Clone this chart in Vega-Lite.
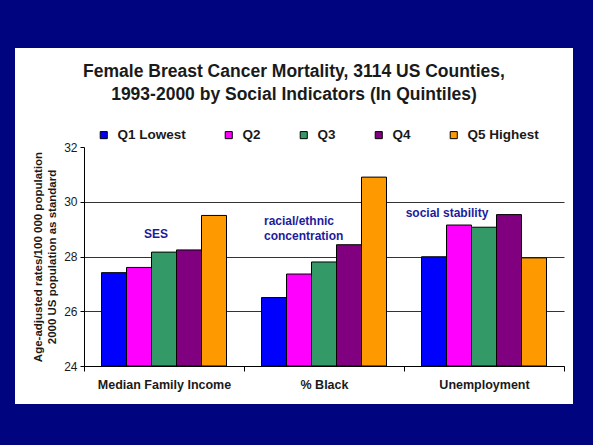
{
  "$schema": "https://vega.github.io/schema/vega-lite/v6.json",
  "width": 558,
  "height": 356,
  "autosize": {"type": "none"},
  "padding": {"left": 15, "top": 48, "right": 20, "bottom": 41},
  "background": "#00047f",
  "config": {
    "view": {"fill": "white", "stroke": null},
    "font": "Liberation Sans",
    "axis": {"labelFont": "Liberation Sans", "titleFont": "Liberation Sans"}
  },
  "title": {
    "text": ["Female Breast Cancer Mortality, 3114 US Counties,", "1993-2000 by Social Indicators (In Quintiles)"],
    "anchor": "middle",
    "frame": "group",
    "fontSize": 17.5,
    "fontWeight": "bold",
    "color": "#1a1a1a",
    "lineHeight": 23,
    "offset": -55
  },
  "datasets": {
    "rates": [
      {"indicator": "Median Family Income", "quintile": "Q1 Lowest", "rate": 27.41},
      {"indicator": "Median Family Income", "quintile": "Q2", "rate": 27.6},
      {"indicator": "Median Family Income", "quintile": "Q3", "rate": 28.16},
      {"indicator": "Median Family Income", "quintile": "Q4", "rate": 28.24},
      {"indicator": "Median Family Income", "quintile": "Q5 Highest", "rate": 29.5},
      {"indicator": "% Black", "quintile": "Q1 Lowest", "rate": 26.5},
      {"indicator": "% Black", "quintile": "Q2", "rate": 27.36},
      {"indicator": "% Black", "quintile": "Q3", "rate": 27.8},
      {"indicator": "% Black", "quintile": "Q4", "rate": 28.43},
      {"indicator": "% Black", "quintile": "Q5 Highest", "rate": 30.9},
      {"indicator": "Unemployment", "quintile": "Q1 Lowest", "rate": 27.99},
      {"indicator": "Unemployment", "quintile": "Q2", "rate": 29.15},
      {"indicator": "Unemployment", "quintile": "Q3", "rate": 29.07},
      {"indicator": "Unemployment", "quintile": "Q4", "rate": 29.53},
      {"indicator": "Unemployment", "quintile": "Q5 Highest", "rate": 27.95}
    ]
  },
  "layer": [
    {
      "data": {"name": "rates"},
      "mark": {"type": "bar", "stroke": "black", "strokeWidth": 1},
      "encoding": {
        "x": {
          "field": "indicator",
          "type": "nominal",
          "sort": ["Median Family Income", "% Black", "Unemployment"],
          "scale": {"range": [69, 549], "paddingInner": 0, "paddingOuter": 0},
          "axis": {
            "orient": "bottom",
            "offset": -38,
            "title": null,
            "labelAngle": 0,
            "labelFontSize": 12.5,
            "labelFontWeight": "bold",
            "labelColor": "#1a1a1a",
            "labelPadding": 7,
            "tickBand": "extent",
            "tickSize": 5,
            "tickColor": "black",
            "domainColor": "black",
            "grid": false
          }
        },
        "xOffset": {
          "field": "quintile",
          "sort": ["Q1 Lowest", "Q2", "Q3", "Q4", "Q5 Highest"],
          "scale": {"paddingInner": 0, "paddingOuter": 0.7}
        },
        "y": {
          "field": "rate",
          "type": "quantitative",
          "scale": {"domain": [24, 32], "range": [318, 99], "nice": false, "zero": false},
          "axis": {
            "orient": "left",
            "offset": -69,
            "values": [24, 26, 28, 30, 32],
            "grid": true,
            "gridColor": "#333333",
            "gridOpacity": {"condition": {"test": "datum.value == 32", "value": 0}, "value": 1},
            "labelFontSize": 12,
            "labelColor": "#1a1a1a",
            "labelPadding": 3,
            "tickSize": 4,
            "tickColor": "black",
            "domainColor": "black",
            "title": ["Age-adjusted rates/100 000 population", "2000 US population as standard"],
            "titleFontSize": 11.5,
            "titleFontWeight": "bold",
            "titleColor": "#1a1a1a",
            "titlePadding": 6,
            "titleLineHeight": 14
          }
        },
        "y2": {"datum": 24},
        "color": {
          "field": "quintile",
          "type": "nominal",
          "sort": ["Q1 Lowest", "Q2", "Q3", "Q4", "Q5 Highest"],
          "scale": {
            "domain": ["Q1 Lowest", "Q2", "Q3", "Q4", "Q5 Highest"],
            "range": ["#0000ff", "#ff00ff", "#339966", "#800080", "#ff9900"]
          },
          "legend": {
            "orient": "none",
            "legendX": 82,
            "legendY": 80,
            "direction": "horizontal",
            "title": null,
            "symbolType": "square",
            "symbolSize": 50,
            "symbolStrokeColor": "black",
            "symbolStrokeWidth": 1,
            "symbolOpacity": 1,
            "labelFontSize": 13.5,
            "labelFontWeight": "bold",
            "labelColor": "#1a1a1a",
            "labelOffset": 7,
            "columnPadding": 36
          }
        }
      }
    },
    {
      "data": {"values": [{"indicator": "Median Family Income", "rate": 28.82, "note": "SES"}]},
      "mark": {"type": "text", "fontSize": 12, "fontWeight": "bold", "color": "#1c1c9c", "dx": -8},
      "encoding": {
        "x": {"field": "indicator", "type": "nominal", "sort": ["Median Family Income", "% Black", "Unemployment"]},
        "y": {"field": "rate", "type": "quantitative"},
        "text": {"field": "note"}
      }
    },
    {
      "data": {"values": [{"indicator": "% Black", "rate": 29.3, "note": ["racial/ethnic", "concentration"]}]},
      "mark": {"type": "text", "fontSize": 12, "fontWeight": "bold", "color": "#1c1c9c", "align": "left", "dx": -60, "lineHeight": 15},
      "encoding": {
        "x": {"field": "indicator", "type": "nominal", "sort": ["Median Family Income", "% Black", "Unemployment"]},
        "y": {"field": "rate", "type": "quantitative"},
        "text": {"field": "note"}
      }
    },
    {
      "data": {"values": [{"indicator": "Unemployment", "rate": 29.58, "note": "social stability"}]},
      "mark": {"type": "text", "fontSize": 12, "fontWeight": "bold", "color": "#1c1c9c", "dx": -37},
      "encoding": {
        "x": {"field": "indicator", "type": "nominal", "sort": ["Median Family Income", "% Black", "Unemployment"]},
        "y": {"field": "rate", "type": "quantitative"},
        "text": {"field": "note"}
      }
    }
  ]
}
